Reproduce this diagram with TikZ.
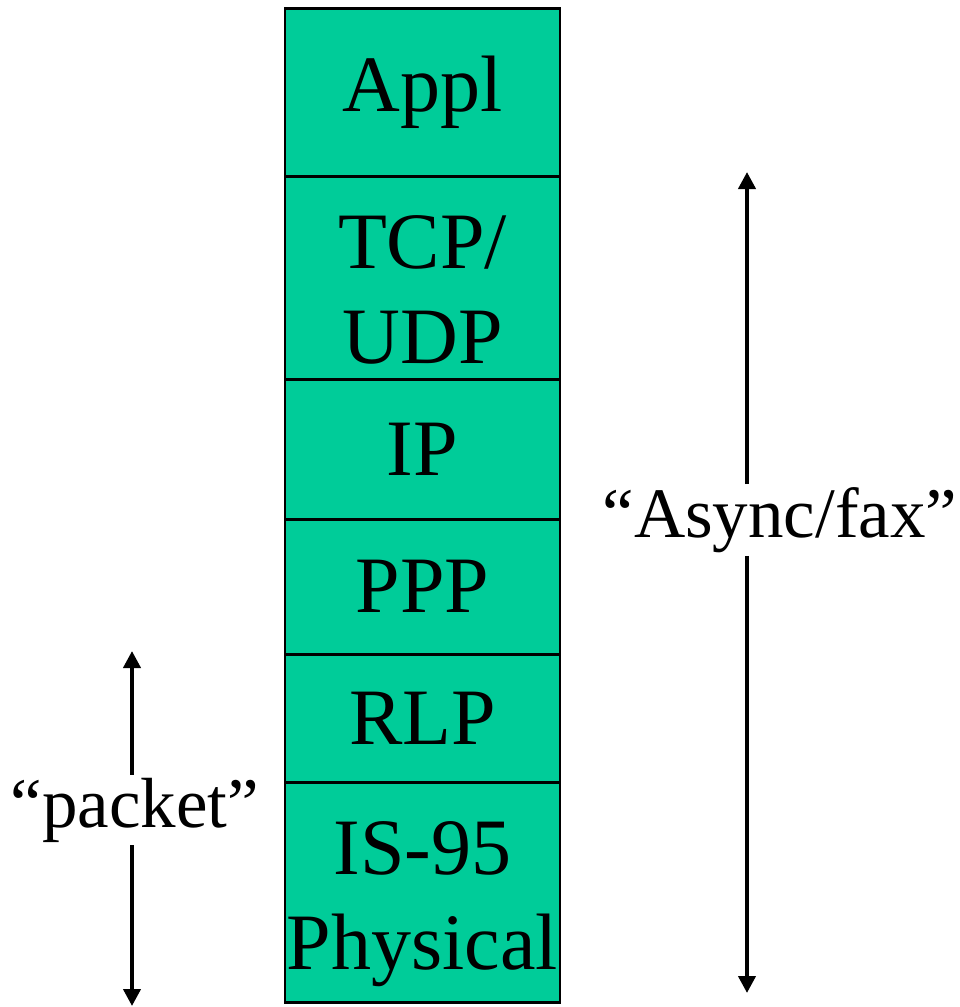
\documentclass[tikz,border=0pt]{standalone}
\usepackage{fontspec}
\setmainfont{Liberation Serif}
\usetikzlibrary{arrows.meta}
\definecolor{layergreen}{RGB}{0,204,153}
\newcommand{\downstrut}{\rule{0pt}{77pt}}
\begin{document}
\begin{tikzpicture}[x=1pt,y=-1pt,
  layer/.style={draw=black, line width=2.5pt, fill=layergreen, minimum width=275pt,
    inner sep=0pt, anchor=north, align=center,
    font=\fontsize{80}{95}\selectfont},
  lbl/.style={inner sep=3pt, font=\fontsize{71}{85}\selectfont},
  span/.style={line width=4pt, -{Triangle[length=17pt,width=17pt]}}]
\useasboundingbox (0,0) rectangle (960,1007);
\node[layer, minimum height=168pt] (appl) at (422.5,7) {Appl};
\node[layer, minimum height=203pt] (tcp) at (422.5,175) {\downstrut TCP/\\UDP};
\node[layer, minimum height=140pt] (ip) at (422.5,378) {IP};
\node[layer, minimum height=135pt] (ppp) at (422.5,518) {PPP};
\node[layer, minimum height=128pt] (rlp) at (422.5,653) {RLP};
\node[layer, minimum height=220pt] (phy) at (422.5,781) {\downstrut IS-95\\Physical};
\node[lbl] (async) at (780,520) {“Async/fax”};
\node[lbl] (packet) at (135,810) {“packet”};
\coordinate (atop) at (747,172);
\coordinate (abot) at (747,993);
\coordinate (ptop) at (132,651);
\coordinate (pbot) at (132,1006);
\draw[span] (async.north -| atop) -- (atop);
\draw[span] (async.south -| abot) -- (abot);
\draw[span] (packet.north -| ptop) -- (ptop);
\draw[span] (packet.south -| pbot) -- (pbot);
\end{tikzpicture}
\end{document}
